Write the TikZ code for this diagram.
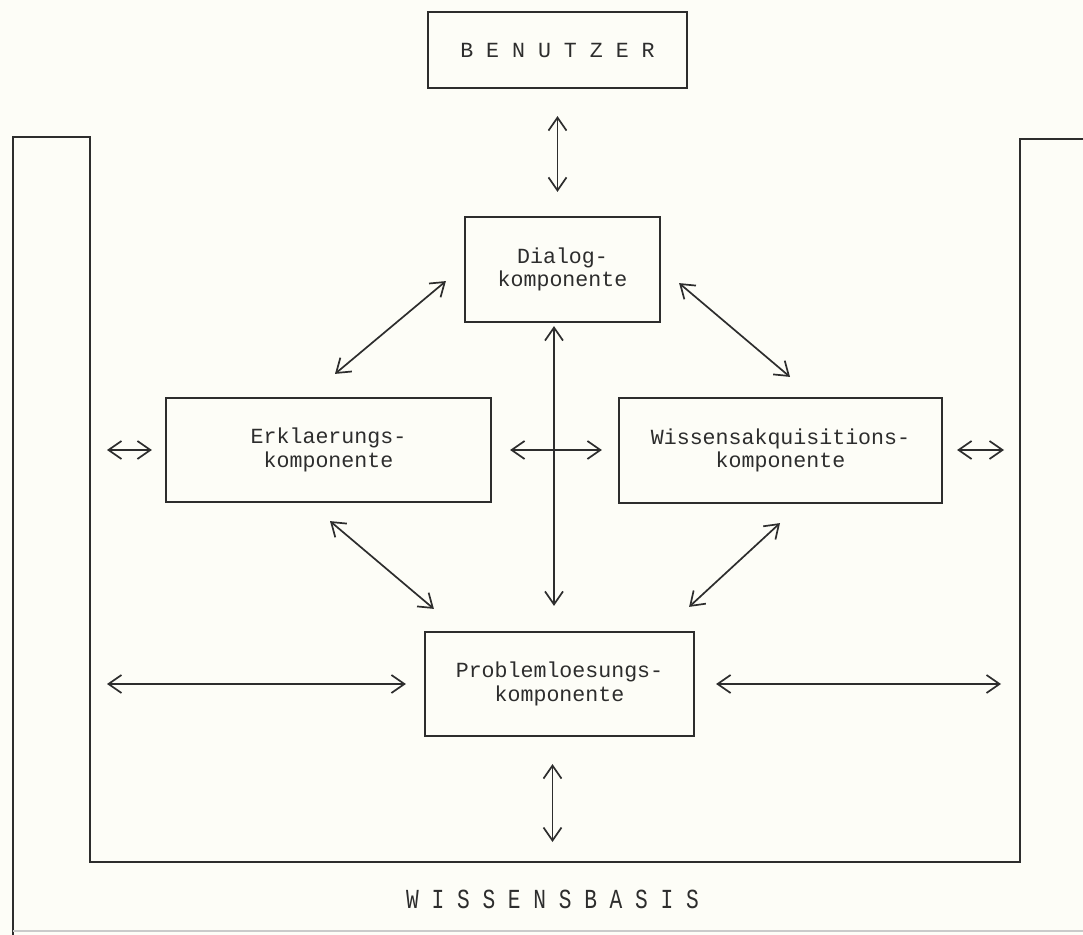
\documentclass[tikz,border=0pt]{standalone}
\usepackage{fontspec}
\usepackage{graphicx}
\newfontfamily\typew{Liberation Mono}
\usetikzlibrary{arrows.meta,calc}
\definecolor{paper}{RGB}{253,253,247}
\definecolor{ink}{RGB}{45,45,45}
\tikzset{
  comp/.style={draw=ink, line width=1.1pt, rectangle, inner sep=0pt, align=center,
    font=\typew\fontsize{10.8pt}{11.6pt}\selectfont, text=ink},
  link/.style={draw=ink, line width=0.85pt, {Straight Barb[length=6.5pt,width=9pt]}-{Straight Barb[length=6.5pt,width=9pt]}},
  wall/.style={draw=ink, line width=1pt, line join=miter},
}
\begin{document}
\begin{tikzpicture}[x=0.5pt,y=-0.5pt]
  % paper
  \fill[paper] (0,0) rectangle (1083,935);
  \useasboundingbox (0,0) rectangle (1083,935);

  % knowledge base container
  \draw[wall] (13,935) -- (13,137) -- (90,137) -- (90,862) -- (1020,862) -- (1020,139) -- (1083,139);
  \draw[ink!25, line width=0.8pt] (13,931) -- (1083,931);
  \coordinate (wallLa) at (90,450);
  \coordinate (wallRa) at (1020,450);
  \coordinate (wallLb) at (90,684);
  \coordinate (wallRb) at (1020,684);
  \coordinate (wallB) at (552.5,862);

  % components
  \node[comp, minimum width=129.5pt, minimum height=38pt] (benutzer) at (557.5,50) {B E N U T Z E R};
  \node[comp, minimum width=97.5pt, minimum height=52.5pt] (dialog) at (562.5,269.5) {Dialog-\\komponente};
  \node[comp, minimum width=162.5pt, minimum height=52pt] (erkl) at (328.5,450) {Erklaerungs-\\komponente};
  \node[comp, minimum width=161.5pt, minimum height=52.5pt] (wiss) at (780.5,450.5) {Wissensakquisitions-\\komponente};
  \node[comp, minimum width=134.5pt, minimum height=52pt] (problem) at (559.5,684) {Problemloesungs-\\komponente};

  % label of the container
  \node[font=\typew\fontsize{10.6pt}{12pt}\selectfont, text=ink] (basis) at (552.5,899)
    {\scalebox{1}[1.3]{W I S S E N S B A S I S}};

  % connections
  \draw[link] ($(benutzer.south)+(0,27)$) -- ($(dialog.north)+(-5,-24)$);
  \draw[link] ($(dialog.south west)+(-18,-42)$) -- ($(erkl.north)+(6.5,-23)$);
  \draw[link] ($(dialog.south east)+(18,-40)$) -- ($(wiss.north)+(9.5,-20)$);
  \draw[link] ($(erkl.south)+(1.5,18)$) -- ($(problem.north west)+(10,-22)$);
  \draw[link] ($(wiss.south)+(-0.5,19)$) -- ($(problem.north east)+(-6,-24)$);
  \draw[link] ($(dialog.south)+(-8.5,3)$) -- ($(problem.north)+(-5.5,-25)$);
  \draw[link] ($(erkl.east)+(18,0)$) -- ($(wiss.west)+(-16,-0.5)$);
  \draw[link] ($(wallLa)+(17,0)$) -- ($(erkl.west)+(-13,0)$);
  \draw[link] ($(wiss.east)+(14,-0.5)$) -- ($(wallRa)+(-16,0)$);
  \draw[link] ($(wallLb)+(17,0)$) -- ($(problem.west)+(-18,0)$);
  \draw[link] ($(problem.east)+(21,0)$) -- ($(wallRb)+(-19,0)$);
  \draw[link] ($(problem.south)+(-7,27)$) -- ($(wallB)+(0,-20)$);
\end{tikzpicture}
\end{document}
